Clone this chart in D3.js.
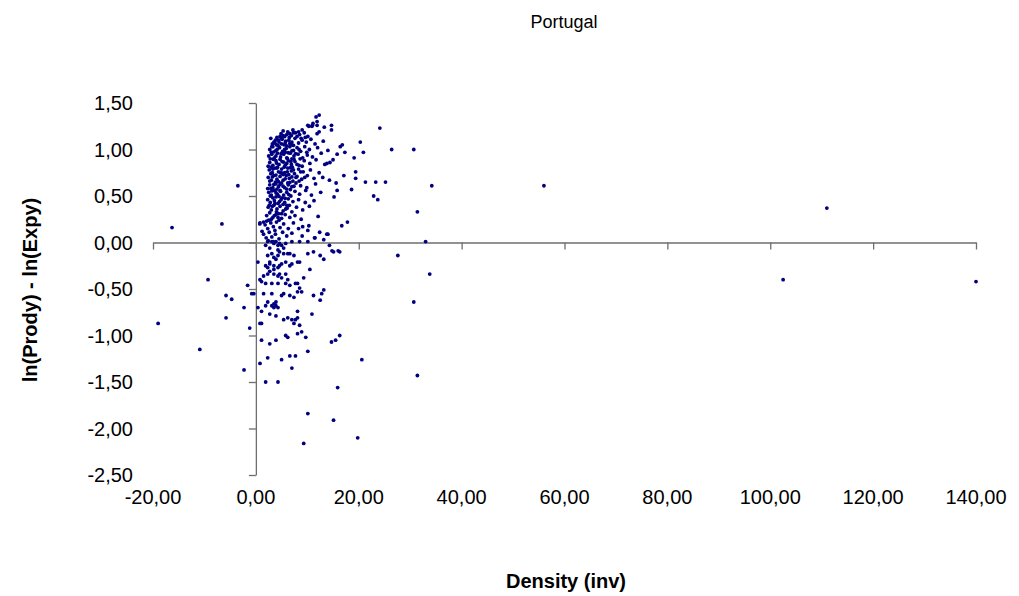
<!DOCTYPE html>
<html>
<head>
<meta charset="utf-8">
<script src="https://cdn.jsdelivr.net/npm/d3@7"></script>
<style>
	body { margin: 0; background: #fff; }
	svg { display: block; font-family: Arial, "Liberation Sans", sans-serif; }
	.axis path, .axis line { stroke: #6e6e6e; stroke-width: 1.3; }
	.tickLabel { font-size: 20px; fill: #000; }
	.axisTitle { font-size: 20px; font-weight: bold; fill: #000; }
	.title { font-size: 18px; fill: #000; }
	.dot { fill: #000080; }
</style>
</head>
<body>
<svg id="chart" width="1019" height="596"></svg>
<script>

// x ticks and y ticks as they appear on the chart
var xTicks = [-20, 0, 20, 40, 60, 80, 100, 120, 140],
	yTicks = [-2.5, -2, -1.5, -1, -0.5, 0, 0.5, 1, 1.5];

// points left of the y axis
var leftPoints = [
	[-16.3, 0.16], [-19.0, -0.87], [-10.9, -1.15], [-9.3, -0.40], [-6.6, 0.20], [-3.5, 0.61],
	[-5.8, -0.57], [-4.7, -0.61], [-5.8, -0.81], [-2.3, -0.70], [-1.6, -0.46], [-1.2, -0.92],
	[-2.3, -1.37], [-0.8, -0.55], [-0.4, -0.55]
];

// far right outliers
var farPoints = [
	[56.0, 0.61], [102.5, -0.40], [111.0, 0.37], [140.0, -0.42],
	[24.1, 1.23], [26.4, 1.00], [30.7, 1.00], [34.2, 0.61], [31.4, 0.33], [33.0, 0.01],
	[27.6, -0.14], [33.8, -0.34], [30.7, -0.64], [31.4, -1.43], [19.8, -2.10], [20.6, -1.26],
	[21.3, 0.65], [23.3, 0.65], [25.2, 0.65], [22.9, 0.50], [23.7, 0.46]
];

// scattered points right of the dense cluster
var spreadPoints = [
	[12.3, 1.37], [11.7, 1.35], [10.3, 1.25], [11.0, 1.26], [11.9, 1.26], [12.3, 1.19],
	[13.3, 1.24], [14.7, 1.26], [14.7, 1.21], [11.9, 1.17], [20.3, 1.08], [20.9, 0.97],
	[19.1, 0.91], [19.4, 0.76], [19.4, 0.69], [18.6, 0.57], [16.8, 1.05], [16.4, 1.03],
	[17.3, 0.97], [15.8, 0.95], [15.0, 0.89], [13.8, 0.85], [14.4, 0.86], [17.1, 0.72],
	[14.3, 0.67], [15.6, 0.64], [15.8, 0.56], [15.2, 0.49], [17.8, 0.22], [16.7, 0.18],
	[13.8, 0.09], [10.3, 0.18], [11.4, 0.05], [9.1, 0.17], [10.1, 0.13], [9.0, 0.07],
	[8.3, 0.15], [14.8, -0.09], [16.0, -0.09], [0.8, 0.21], [1.5, 0.22], [0.76, 0.20],
	[14.0, 0.09], [13.2, 0.03], [11.1, 1.28], [10.1, 1.26], [10.9, 1.25], [11.9, 1.30]
];

// points below zero
var lowerPoints = [
	[14.3, -0.03], [15.1, -0.10], [16.3, -0.10], [13.2, -0.18], [12.5, -0.14],
	[13.2, -0.51], [12.8, -0.55], [12.5, -0.62], [16.3, -1.00], [15.5, -1.05], [14.7, -1.07],
	[15.9, -1.56], [15.1, -1.91], [0.4, -0.21], [0.4, -0.70], [0.8, -0.87], [1.1, -0.87],
	[1.1, -1.05], [0.8, -1.30], [1.9, -1.50], [4.3, -1.50], [2.3, -1.24], [2.7, -1.09],
	[3.9, -1.05], [5.0, -1.26], [7.0, -1.35], [6.6, -1.22], [7.7, -1.22], [10.1, -1.17],
	[5.8, -1.00], [6.2, -1.02], [8.1, -0.98], [8.9, -0.96], [9.7, -1.02], [8.5, -0.89],
	[10.1, -1.84], [9.3, -2.16], [11.2, -0.57], [10.9, -0.77], [9.3, -0.38], [10.5, -0.29],
	[10.1, -0.12], [11.2, -0.10], [8.1, -0.74], [8.1, -0.81], [7.0, -0.83], [7.4, -0.87],
	[7.7, -0.83], [6.2, -0.81], [5.4, -0.83], [3.9, -0.79], [2.7, -0.77], [1.1, -0.74],
	[3.1, -0.68], [3.5, -0.70], [3.9, -0.68], [4.3, -0.70], [3.5, -0.66], [3.9, -0.64],
	[2.3, -0.64], [1.9, -0.68], [1.5, -0.55], [3.1, -0.55], [5.0, -0.57], [5.4, -0.55],
	[6.6, -0.57], [7.4, -0.59], [8.1, -0.53], [8.9, -0.53], [8.5, -0.49], [7.7, -0.44],
	[8.1, -0.44], [6.6, -0.46], [5.8, -0.44], [4.3, -0.44], [3.1, -0.44], [1.9, -0.44],
	[1.1, -0.42], [0.8, -0.40], [1.5, -0.36], [2.3, -0.34], [2.7, -0.31], [3.5, -0.34],
	[4.3, -0.36], [4.6, -0.34], [5.0, -0.38], [5.8, -0.34], [6.2, -0.40], [1.9, -0.25],
	[2.7, -0.23], [3.5, -0.25], [3.5, -0.29], [4.3, -0.27], [4.6, -0.25], [2.3, -0.27],
	[2.3, -0.14], [3.1, -0.12], [3.5, -0.16], [3.9, -0.18], [2.7, -0.21], [4.3, -0.14],
	[5.0, -0.23], [5.8, -0.21], [6.6, -0.25], [7.0, -0.23], [6.2, -0.12], [6.6, -0.12],
	[5.4, -0.12], [4.6, -0.10], [4.3, -0.08], [8.1, -0.21], [8.5, -0.21], [7.4, -0.14],
	[4.6, -0.01], [5.0, -0.03], [5.4, -0.06], [4.3, -0.03], [3.5, -0.01], [2.7, -0.06],
	[1.9, -0.03], [5.8, -0.01]
];

// dense cluster between 0 and 1,2
var corePoints = [
	[9.0, 1.21], [8.3, 1.19], [7.3, 1.18], [6.6, 1.17], [6.0, 1.16], [5.3, 1.15], [5.0, 1.12],
	[4.4, 1.10], [3.7, 1.07], [3.1, 1.03], [2.3, 0.01], [3.1, 0.01], [3.9, 0.01], [7.0, 0.01],
	[8.5, 0.01], [10.1, 0.01],
	[4.1, 1.13], [4.9, 1.17], [5.6, 1.14], [6.2, 1.19], [6.9, 1.15], [7.7, 1.18], [8.5, 1.16],
	[9.4, 1.18], [10.1, 1.14], [5.3, 1.20], [7.2, 1.21],
	[3.2, 1.06], [3.8, 1.10], [4.5, 1.08], [5.1, 1.11], [5.7, 1.07], [6.4, 1.10], [7.0, 1.08],
	[7.6, 1.12], [8.3, 1.07], [9.0, 1.10], [9.8, 1.08], [10.7, 1.11], [11.5, 1.06], [13.1, 1.09],
	[4.0, 1.05], [6.0, 1.04],
	[2.7, 1.00], [3.3, 1.03], [3.9, 0.99], [4.6, 1.02], [5.2, 0.98], [5.9, 1.01], [6.6, 1.03],
	[7.3, 0.99], [8.0, 1.02], [8.7, 0.98], [9.5, 1.03], [10.4, 1.00], [12.0, 1.02], [14.0, 0.99],
	[3.0, 0.97], [5.5, 1.05], [7.0, 1.05],
	[2.5, 0.93], [3.1, 0.95], [3.6, 0.91], [4.2, 0.96], [4.8, 0.92], [5.4, 0.95], [6.0, 0.91],
	[6.7, 0.96], [7.4, 0.93], [8.2, 0.95], [9.1, 0.91], [10.0, 0.94], [11.0, 0.92], [12.7, 0.96],
	[3.9, 0.93], [5.7, 0.97], [7.0, 0.90],
	[2.7, 0.86], [3.3, 0.83], [3.9, 0.88], [4.5, 0.84], [5.1, 0.87], [5.7, 0.83], [6.3, 0.88],
	[6.9, 0.84], [7.6, 0.87], [8.4, 0.83], [9.4, 0.88], [10.5, 0.85], [11.7, 0.89], [13.4, 0.84],
	[2.4, 0.82], [4.2, 0.81], [6.0, 0.85],
	[2.6, 0.78], [3.2, 0.75], [3.7, 0.80], [4.4, 0.76], [5.0, 0.79], [5.6, 0.75], [6.2, 0.80],
	[6.9, 0.77], [7.5, 0.74], [8.3, 0.79], [9.2, 0.76], [10.6, 0.78], [12.3, 0.75], [3.0, 0.81],
	[5.3, 0.73], [7.1, 0.81],
	[2.4, 0.70], [3.0, 0.67], [3.5, 0.72], [4.1, 0.68], [4.7, 0.71], [5.3, 0.67], [5.9, 0.72],
	[6.5, 0.69], [7.2, 0.66], [8.0, 0.71], [8.9, 0.68], [10.0, 0.72], [11.3, 0.69], [13.0, 0.70],
	[3.8, 0.65], [6.2, 0.64],
	[2.7, 0.62], [3.3, 0.59], [3.9, 0.63], [4.4, 0.60], [5.0, 0.64], [5.6, 0.59], [6.3, 0.62],
	[7.0, 0.60], [7.8, 0.64], [8.7, 0.61], [9.9, 0.59], [11.6, 0.63], [2.3, 0.58], [4.7, 0.56],
	[6.7, 0.57],
	[2.5, 0.54], [3.0, 0.51], [3.6, 0.56], [4.2, 0.52], [4.8, 0.55], [5.4, 0.51], [6.0, 0.54],
	[6.8, 0.50], [7.6, 0.55], [8.5, 0.52], [9.7, 0.56], [10.8, 0.51], [12.6, 0.54], [3.3, 0.48],
	[5.1, 0.48],
	[2.3, 0.46], [2.8, 0.43], [3.6, 0.45], [4.3, 0.42], [4.9, 0.46], [5.6, 0.43], [6.3, 0.47],
	[7.2, 0.44], [8.3, 0.46], [9.6, 0.43], [11.3, 0.45], [3.9, 0.49], [6.0, 0.40],
	[2.4, 0.38], [3.0, 0.35], [3.5, 0.40], [4.1, 0.36], [4.7, 0.39], [5.3, 0.34], [6.1, 0.37],
	[7.0, 0.33], [7.9, 0.38], [9.1, 0.35], [10.4, 0.39], [2.7, 0.32], [4.4, 0.31],
	[2.1, 0.29], [3.3, 0.27], [3.9, 0.30], [5.0, 0.26], [5.7, 0.30], [6.6, 0.27], [7.6, 0.29],
	[8.8, 0.25], [2.5, 0.24], [4.5, 0.24], [12.1, 0.28],
	[1.8, 0.19], [2.3, 0.15], [2.9, 0.21], [3.4, 0.17], [4.0, 0.22], [4.7, 0.16], [5.4, 0.20],
	[6.3, 0.15], [7.3, 0.21], [2.1, 0.23], [3.7, 0.13],
	[1.5, 0.09], [2.0, 0.05], [2.6, 0.11], [3.1, 0.06], [3.8, 0.09], [4.5, 0.04], [5.2, 0.11],
	[6.0, 0.07], [7.0, 0.10], [2.4, 0.02], [3.4, 0.01], [1.2, 0.12], [12.4, 0.11], [11.5, 0.05],
	// second layer in the darkest part of the cluster
	[3.5, 1.08], [4.3, 1.045], [5.0, 1.06], [5.8, 1.09], [6.6, 1.065], [7.3, 1.045],
	[3.5, 0.975], [4.2, 1.005], [4.9, 0.955], [5.6, 1.0], [6.3, 0.965], [7.0, 0.985], [7.7, 0.955],
	[3.4, 0.895], [4.0, 0.855], [4.7, 0.895], [5.4, 0.865], [6.1, 0.905], [6.8, 0.87], [7.4, 0.895],
	[3.3, 0.79], [4.1, 0.80], [4.8, 0.75], [5.5, 0.81], [6.1, 0.76], [6.7, 0.805], [7.3, 0.78],
	[3.2, 0.705], [3.9, 0.725], [4.4, 0.655], [5.1, 0.745], [5.7, 0.685], [6.4, 0.73], [7.0, 0.705],
	[3.5, 0.625], [4.1, 0.575], [4.7, 0.625], [5.3, 0.605], [6.0, 0.575], [6.6, 0.645], [7.4, 0.605],
	[3.1, 0.555], [3.9, 0.535], [4.5, 0.495], [5.7, 0.475], [6.4, 0.515],
	[2.9, 1.12], [4.7, 1.14], [6.5, 1.13], [8.0, 1.14], [8.8, 1.12], [9.6, 1.13],
	[2.8, 0.90], [2.9, 0.74], [2.7, 0.66], [2.9, 0.58], [2.8, 0.50], [2.6, 0.40],
	[3.7, 0.42], [4.6, 0.44], [3.2, 0.39], [4.0, 0.33], [3.6, 0.29], [4.3, 0.27], [3.0, 0.25],
	[8.6, 0.90], [8.0, 0.84], [8.7, 0.76], [7.8, 0.70], [8.4, 0.66], [9.5, 0.70], [9.0, 0.82],
	[9.9, 0.97], [8.4, 1.00], [5.3, 0.41], [5.8, 0.36], [5.0, 0.31], [6.5, 0.40]
];

var points = [].concat(leftPoints, farPoints, spreadPoints, lowerPoints, corePoints);

var svg = d3.select("#chart");

var x = d3.scaleLinear().domain([-20, 140]).range([153, 976]),
	y = d3.scaleLinear().domain([-2.5, 1.5]).range([475, 103]);

var fmt = d3.formatLocale({
	decimal: ",", thousands: ".", grouping: [3], currency: ["", " €"], minus: "-"
}).format(".2f");

// title
svg.append("text")
	.attr("class", "title")
	.attr("x", 564)
	.attr("y", 28)
	.attr("text-anchor", "middle")
	.text("Portugal");

// x axis crosses at y = 0
svg.append("g")
	.attr("class", "axis")
	.attr("transform", "translate(0," + y(0) + ")")
	.call(d3.axisBottom(x).tickValues(xTicks).tickSize(7).tickSizeOuter(0).tickFormat(""));

svg.append("g")
	.attr("class", "axis")
	.attr("transform", "translate(" + x(0) + ",0)")
	.call(d3.axisLeft(y).tickValues(yTicks).tickSize(7).tickSizeOuter(0).tickFormat(""));

svg.selectAll(".axis .domain").attr("fill", "none");

// tick labels sit at the low end, like Excel does
svg.append("g")
	.selectAll("text")
	.data(xTicks)
	.enter()
	.append("text")
	.attr("class", "tickLabel")
	.attr("x", function (d) { return x(d); })
	.attr("y", 504)
	.attr("text-anchor", "middle")
	.text(function (d) { return fmt(d); });

svg.append("g")
	.selectAll("text")
	.data(yTicks)
	.enter()
	.append("text")
	.attr("class", "tickLabel")
	.attr("x", 133)
	.attr("y", function (d) { return y(d); })
	.attr("dy", "0.36em")
	.attr("text-anchor", "end")
	.text(function (d) { return fmt(d); });

// axis titles
svg.append("text")
	.attr("class", "axisTitle")
	.attr("x", 566)
	.attr("y", 588)
	.attr("text-anchor", "middle")
	.text("Density (inv)");

svg.append("text")
	.attr("class", "axisTitle")
	.attr("text-anchor", "middle")
	.attr("transform", "translate(37," + 290 + ") rotate(-90)")
	.text("ln(Prody) - ln(Expy)");

// dots
svg.append("g")
	.selectAll("circle")
	.data(points)
	.enter()
	.append("circle")
	.attr("class", "dot")
	.attr("cx", function (d) { return x(d[0]); })
	.attr("cy", function (d) { return y(d[1]); })
	.attr("r", 1.9);

</script>
</body>
</html>
